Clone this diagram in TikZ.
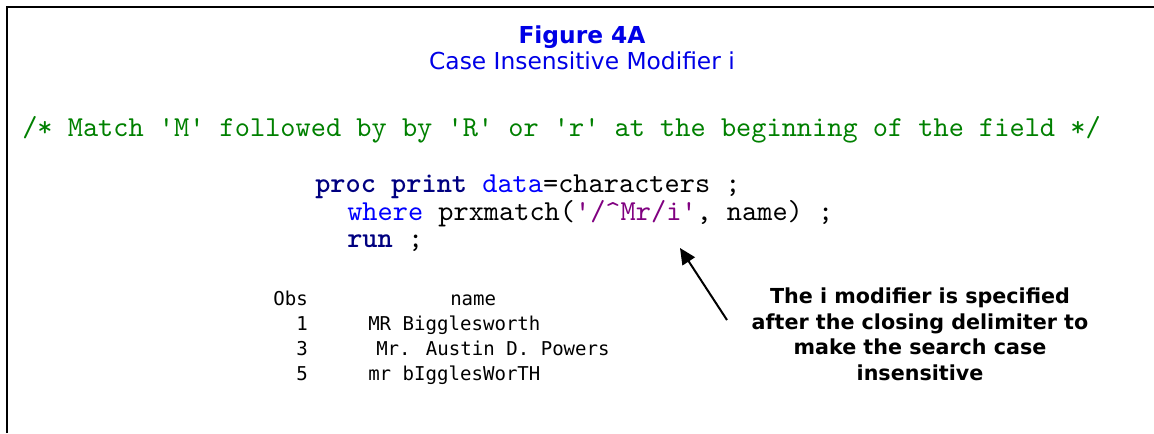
\documentclass[tikz,border=0pt]{standalone}
\usepackage{fontspec}
\setmainfont{DejaVu Sans}
\setmonofont{lmmono10-regular.otf}[BoldFont=lmmonolt10-bold.otf]
\newfontfamily\listfont{DejaVu Sans Mono}
\usetikzlibrary{positioning}
\usetikzlibrary{arrows.meta}

\definecolor{sasgreen}{HTML}{008000}
\definecolor{sasnavy}{HTML}{000080}
\definecolor{sasblue}{HTML}{0000FF}
\definecolor{saspurple}{HTML}{800080}
\definecolor{titleblue}{HTML}{0000E6}

\tikzset{
	titletext/.style={inner sep=0pt, anchor=base, text=titleblue, font=\fontsize{17.5}{21}\selectfont},
	codeline/.style={inner sep=0pt, anchor=base west, font=\ttfamily\fontsize{21.7}{25}\selectfont},
	listcell/.style={inner sep=0pt, font=\listfont\fontsize{14.3}{17}\selectfont},
	notetext/.style={inner sep=0pt, anchor=base, align=center, font=\bfseries\fontsize{15.5}{19.1}\selectfont}
}
\newcommand{\kw}[1]{\textcolor{sasnavy}{\bfseries #1}}

\begin{document}
\begin{tikzpicture}[x=0.75pt, y=-0.75pt]
		\useasboundingbox (0,0) rectangle (1154,433);
		% frame
		\draw[line width=1.5pt] (7,433) -- (7,7) -- (1154,7);
		% titles
		\node[titletext] (fig) at (582,43) {\bfseries Figure 4A};
		\node[titletext] (subtitle) at (582,69) {Case Insensitive Modifier i};
		% program
		\node[codeline, text=sasgreen] (comment) at (22,136)
			{/* Match 'M' followed by by 'R' or 'r' at the beginning of the field */};
		\node[codeline] (procline) at (315,192)
			{\kw{proc print} \textcolor{sasblue}{data}=characters ;};
		\node[codeline] (whereline) at (347,220)
			{\textcolor{sasblue}{where} prxmatch(\textcolor{saspurple}{'/\textasciicircum Mr/i'}, name) ;};
		\node[codeline] (runline) at (347,247) {\kw{run} ;};
		% output listing
		\node[listcell, anchor=base east] (obshead) at (308,305) {Obs};
		\node[listcell, anchor=base west] (namehead) at (450,305) {name};
		\node[listcell, anchor=base east] (obs1) at (308,330) {1};
		\node[listcell, anchor=base east] (obs3) at (308,355) {3};
		\node[listcell, anchor=base east] (obs5) at (308,380) {5};
		\node[listcell, anchor=base west] (name1) at (368,330) {MR Bigglesworth};
		\node[listcell, anchor=base west] (name3) at (376,355) {Mr. Austin D. Powers};
		\node[listcell, anchor=base west] (name5) at (368,380) {mr bIgglesWorTH};
		% note (base = last line)
		\node[notetext] (note) at (920,380)
			{The i modifier is specified\\after the closing delimiter to\\make the search case\\insensitive};
		\coordinate (tail) at (727,320);
		\coordinate (tip) at (680,248);
		\draw[line width=1.5pt, -{Triangle[length=12pt, width=11pt]}] (tail) -- (tip);
\end{tikzpicture}
\end{document}
